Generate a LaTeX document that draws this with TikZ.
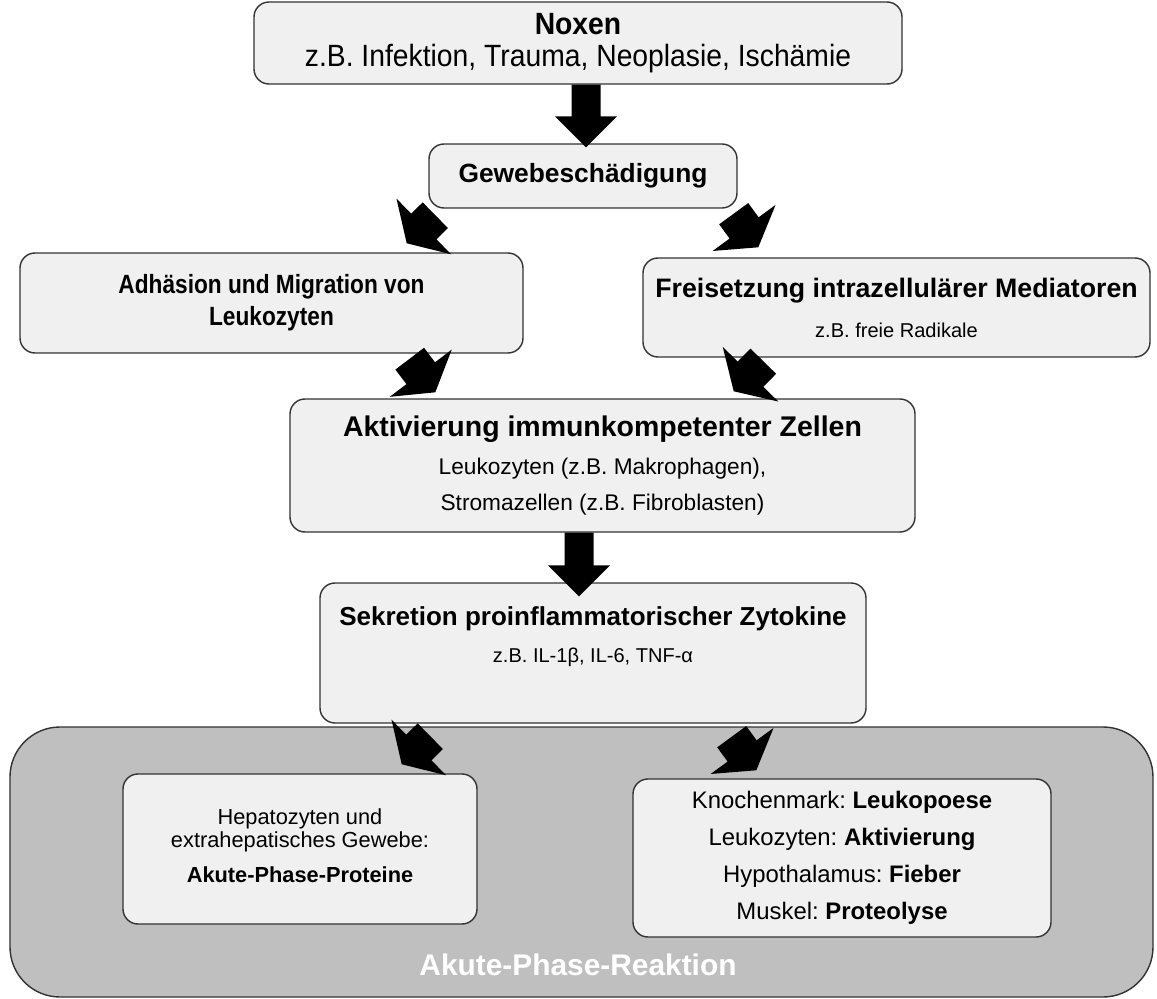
\documentclass[tikz,border=0pt]{standalone}
\usepackage{fontspec}
\usepackage{graphicx}
\setmainfont{Liberation Sans}
\usetikzlibrary{calc}
\frenchspacing

% block arrow: tail, tip, half shaft width, half head width, head length
\newcommand{\blockarrow}[5]{%
  \coordinate (ba-s) at (#1);
  \coordinate (ba-e) at (#2);
  \coordinate (ba-n) at ($(ba-e)!#5!(ba-s)$);
  \fill ($(ba-s)!#3!90:(ba-e)$) -- ($(ba-n)!#3!90:(ba-e)$) -- ($(ba-n)!#4!90:(ba-e)$)
    -- (ba-e) -- ($(ba-n)!#4!-90:(ba-e)$) -- ($(ba-n)!#3!-90:(ba-e)$)
    -- ($(ba-s)!#3!-90:(ba-e)$) -- cycle;
}
\newcommand{\straightarrow}[2]{\blockarrow{#1}{#2}{0.29cm}{0.62cm}{0.62cm}}
\newcommand{\slantarrow}[2]{\blockarrow{#1}{#2}{0.36cm}{0.78cm}{0.48cm}}
\newcommand{\narrow}[2][0.92]{\scalebox{#1}[1]{#2}}

\begin{document}
\begin{tikzpicture}[
    box/.style={draw=black!80, fill=black!6, rounded corners=0.3cm,
        align=center, inner sep=0pt, line width=0.8pt},
]

\useasboundingbox (0,0) rectangle (23.14,-19.98);

% Akute-Phase-Reaktion area
\draw[draw=black!80, fill=black!25, rounded corners=1cm, line width=0.8pt]
    (0.2,-14.54) rectangle (23.06,-19.94);
\node[text=white, font=\fontsize{17}{20}\selectfont\bfseries] (apr) at (11.56,-19.3)
    {Akute-Phase-Reaktion};

% Boxes
\node[box, minimum width=12.96cm, minimum height=1.64cm,
    font=\fontsize{17.5}{18}\selectfont] (noxen) at (11.56,-0.86)
    {\narrow{\bfseries Noxen}\\
     \narrow{z.B. Infektion, Trauma, Neoplasie, Ischämie}};
\node[box, minimum width=6.16cm, minimum height=1.28cm,
    font=\fontsize{15}{18}\selectfont\bfseries] (gewebe) at (11.66,-3.52)
    {Gewebeschädigung};
\node[box, minimum width=10.06cm, minimum height=2cm,
    font=\fontsize{15}{18.2}\selectfont\bfseries] (adh) at (5.43,-6.06)
    {\narrow[0.86]{Adhäsion und Migration von}\\\narrow[0.86]{Leukozyten}};
\node[box, minimum width=10.14cm, minimum height=1.98cm,
    font=\fontsize{15.2}{22.8}\selectfont] (frei) at (17.93,-6.15)
    {\textbf{Freisetzung intrazellulärer Mediatoren}\\
     {\fontsize{11.4}{22.8}\selectfont z.B. freie Radikale}};
\node[box, minimum width=12.5cm, minimum height=2.66cm,
    font=\fontsize{16.2}{20}\selectfont] (aktiv) at (12.05,-9.31)
    {\textbf{Aktivierung immunkompetenter Zellen}\\[1.6pt]
     {\fontsize{12.9}{20}\selectfont Leukozyten (z.B. Makrophagen),}\\
     {\fontsize{12.9}{20}\selectfont Stromazellen (z.B. Fibroblasten)}};
\node[box, minimum width=10.92cm, minimum height=2.8cm,
    font=\fontsize{14.8}{21}\selectfont] (sekr) at (11.86,-13.06)
    {\textbf{Sekretion proinflammatorischer Zytokine}\\
     {\fontsize{11.4}{21}\selectfont z.B. IL-1β, IL-6, TNF-α}\\
     \mbox{}};
\node[box, minimum width=7.08cm, minimum height=3cm,
    font=\fontsize{12.4}{13.1}\selectfont] (hepa) at (6.0,-16.98)
    {Hepatozyten und\\
     extrahepatisches Gewebe:\\[6.8pt]
     \textbf{Akute-Phase-Proteine}\\[-9pt]
     \mbox{}};
\node[box, minimum width=8.36cm, minimum height=3.16cm,
    font=\fontsize{13.6}{21}\selectfont] (knochen) at (16.84,-17.16)
    {Knochenmark: \textbf{Leukopoese}\\
     Leukozyten: \textbf{Aktivierung}\\
     Hypothalamus: \textbf{Fieber}\\
     Muskel: \textbf{Proteolyse}};

% Arrows
\straightarrow{$(noxen.south)+(0.16,0)$}{$(gewebe.north)+(0.06,-0.08)$}
\slantarrow{$(gewebe.south west)+(0.14,-0.13)$}{$(adh.north east)+(-2.34,0.18)$}
\slantarrow{$(gewebe.south east)+(-0.08,-0.1)$}{$(frei.north west)+(2.32,0.2)$}
\slantarrow{$(adh.south east)+(-2.28,-0.1)$}{$(aktiv.north west)+(2.92,0.12)$}
\slantarrow{$(frei.south west)+(2.42,-0.07)$}{$(aktiv.north east)+(-3.64,0.14)$}
\straightarrow{$(aktiv.south)+(-0.47,0)$}{$(sekr.north)+(-0.28,-0.28)$}
\slantarrow{$(sekr.south west)+(2.22,-0.25)$}{$(hepa.north east)+(-1.52,0.18)$}
\slantarrow{$(sekr.south east)+(-2.7,-0.26)$}{$(knochen.north west)+(2.48,0.16)$}

\end{tikzpicture}
\end{document}
